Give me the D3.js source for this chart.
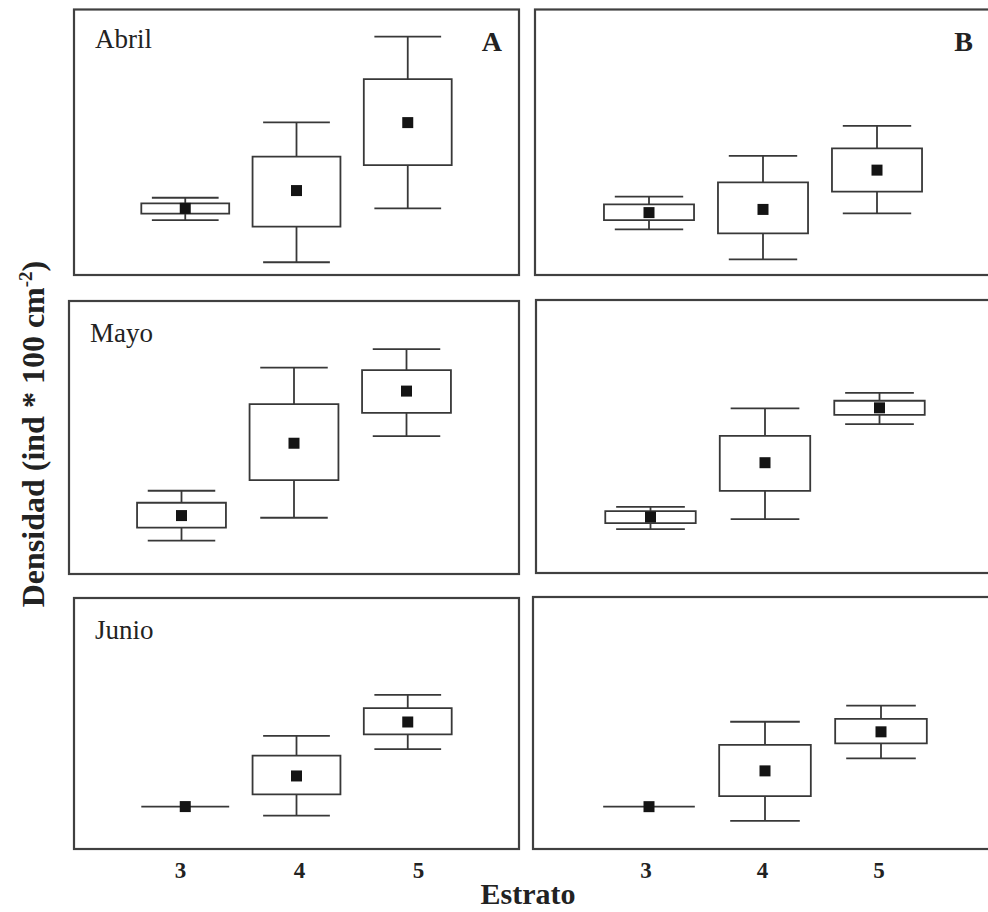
<!DOCTYPE html>
<html>
<head>
<meta charset="utf-8">
<script src="https://cdn.jsdelivr.net/npm/d3@7"></script>
<style>
  html, body { margin: 0; padding: 0; background: #fff; }
  svg { display: block; }
</style>
</head>
<body>
<svg id="fig" width="988" height="912"></svg>
<script>
// Estratos muestreados y meses
const estratos = [3, 4, 5];
const meses = ["Abril", "Mayo", "Junio"];
const columnas = ["A", "B"];

// Columna A: una fila por mes, un valor por estrato (densidad, escala relativa 0-10)
const bigoteSupA = [[2.91, 5.75, 8.98], [3.05, 7.56, 8.24], [1.69, 4.51, 6.14]];
const cajaSupA   = [[2.70, 4.46, 7.38], [2.61, 6.22, 7.47], [1.69, 3.72, 5.61]];
const mediaA     = [[2.51, 3.18, 5.74], [2.14, 4.79, 6.70], [1.69, 2.91, 5.06]];
const cajaInfA   = [[2.31, 1.82, 4.14], [1.70, 3.44, 5.90], [1.69, 2.18, 4.57]];
const bigoteInfA = [[2.07, 0.48, 2.51], [1.22, 2.06, 5.05], [1.69, 1.33, 3.98]];

// Columna B
const bigoteSupB = [[2.95, 4.49, 5.62], [2.42, 6.03, 6.60], [1.68, 5.05, 5.69]];
const cajaSupB   = [[2.66, 3.49, 4.77], [2.27, 5.02, 6.31], [1.68, 4.13, 5.16]];
const mediaB     = [[2.35, 2.47, 3.95], [2.05, 4.04, 6.05], [1.68, 3.10, 4.65]];
const cajaInfB   = [[2.07, 1.57, 3.14], [1.83, 3.01, 5.79], [1.68, 2.10, 4.19]];
const bigoteInfB = [[1.72, 0.59, 2.32], [1.61, 1.97, 5.45], [1.68, 1.12, 3.60]];

const yDominio = [0, 10];

// Marco de cada panel (fila, columna)
const marcos = [
  [{x0: 74, x1: 519, y0: 9.5, y1: 275}, {x0: 535, x1: 991, y0: 9.5, y1: 275}],
  [{x0: 69, x1: 519, y0: 301, y1: 574}, {x0: 536, x1: 994, y0: 300, y1: 573}],
  [{x0: 74, x1: 519, y0: 598, y1: 849}, {x0: 533, x1: 997, y0: 597, y1: 849}]
];

const series = {
  A: {bs: bigoteSupA, cs: cajaSupA, m: mediaA, ci: cajaInfA, bi: bigoteInfA},
  B: {bs: bigoteSupB, cs: cajaSupB, m: mediaB, ci: cajaInfB, bi: bigoteInfB}
};

const svg = d3.select("#fig");
const tinta = "#383838";
const serif = "'Liberation Serif', 'Times New Roman', serif";

meses.forEach((mes, fila) => {
  columnas.forEach((col, c) => {
    const m = marcos[fila][c];
    const s = series[col];
    const x = d3.scalePoint().domain(estratos).range([m.x0, m.x1]).padding(1);
    const y = d3.scaleLinear().domain(yDominio).range([m.y1, m.y0]);
    const paso = x.step();
    const anchoCaja = paso * 0.79;
    const anchoTope = paso * 0.6;

    const g = svg.append("g");

    const datos = estratos.map((e, i) => ({
      e, bs: s.bs[fila][i], cs: s.cs[fila][i], m: s.m[fila][i],
      ci: s.ci[fila][i], bi: s.bi[fila][i]
    }));

    const caja = g.selectAll("g.caja").data(datos).join("g").attr("class", "caja");

    // bigotes (solo si el rango supera a la caja)
    const bigotes = caja.filter(d => d.bs > d.cs || d.bi < d.ci);
    bigotes.append("line")
      .attr("x1", d => x(d.e)).attr("x2", d => x(d.e))
      .attr("y1", d => y(d.bs)).attr("y2", d => y(d.cs))
      .attr("stroke", tinta).attr("stroke-width", 1.8);
    bigotes.append("line")
      .attr("x1", d => x(d.e)).attr("x2", d => x(d.e))
      .attr("y1", d => y(d.ci)).attr("y2", d => y(d.bi))
      .attr("stroke", tinta).attr("stroke-width", 1.8);
    bigotes.append("line")
      .attr("x1", d => x(d.e) - anchoTope / 2).attr("x2", d => x(d.e) + anchoTope / 2)
      .attr("y1", d => y(d.bs)).attr("y2", d => y(d.bs))
      .attr("stroke", tinta).attr("stroke-width", 1.8);
    bigotes.append("line")
      .attr("x1", d => x(d.e) - anchoTope / 2).attr("x2", d => x(d.e) + anchoTope / 2)
      .attr("y1", d => y(d.bi)).attr("y2", d => y(d.bi))
      .attr("stroke", tinta).attr("stroke-width", 1.8);

    // cajas (trazadas como contorno, para que una caja sin altura quede como línea)
    caja.append("path")
      .attr("d", d => {
        const xa = x(d.e) - anchoCaja / 2, xb = x(d.e) + anchoCaja / 2;
        const ya = y(d.cs), yb = y(d.ci);
        return `M${xa},${ya}H${xb}V${yb}H${xa}Z`;
      })
      .attr("fill", "#fff")
      .attr("stroke", tinta).attr("stroke-width", 1.8);

    // medias
    caja.append("rect")
      .attr("x", d => x(d.e) - 5.5).attr("y", d => y(d.m) - 5.5)
      .attr("width", 11).attr("height", 11)
      .attr("fill", "#141414");

    // marco
    g.append("rect")
      .attr("x", m.x0).attr("y", m.y0)
      .attr("width", m.x1 - m.x0).attr("height", m.y1 - m.y0)
      .attr("fill", "none").attr("stroke", "#404040").attr("stroke-width", 2.2);

    if (c === 0) {
      g.append("text")
        .attr("x", m.x0 + 21).attr("y", m.y0 + (fila === 0 ? 38.5 : 41))
        .attr("font-family", serif).attr("font-size", 27)
        .attr("fill", "#222")
        .text(mes);
    }
    if (fila === 0) {
      g.append("text")
        .attr("x", c === 0 ? 502 : 973).attr("y", 51)
        .attr("text-anchor", "end")
        .attr("font-family", serif).attr("font-size", 28).attr("font-weight", "bold")
        .attr("fill", "#222")
        .text(col);
    }
  });
});

// Etiquetas del eje x bajo cada columna
const ejeX = [
  d3.scalePoint().domain(estratos).range([61, 537]).padding(1),
  d3.scalePoint().domain(estratos).range([529, 995]).padding(1)
];
ejeX.forEach(esc => {
  const eje = svg.append("g")
    .attr("transform", "translate(0,856)")
    .call(d3.axisBottom(esc).tickSize(0).tickPadding(0));
  eje.select(".domain").remove();
  eje.selectAll("text")
    .attr("font-family", serif).attr("font-size", 23).attr("font-weight", "bold")
    .attr("fill", "#222").attr("dy", "0.95em");
});

svg.append("text")
  .attr("x", 528).attr("y", 904)
  .attr("text-anchor", "middle")
  .attr("font-family", serif).attr("font-size", 30).attr("font-weight", "bold")
  .attr("fill", "#222")
  .text("Estrato");

const tituloY = svg.append("text")
  .attr("transform", "translate(44,434) rotate(-90)")
  .attr("text-anchor", "middle")
  .attr("font-family", serif).attr("font-size", 32).attr("font-weight", "bold")
  .attr("fill", "#222");
tituloY.append("tspan").text("Densidad (ind * 100 cm");
tituloY.append("tspan").attr("font-size", 19).attr("dy", -12).text("-2");
tituloY.append("tspan").attr("dy", 12).text(")");
</script>
</body>
</html>
